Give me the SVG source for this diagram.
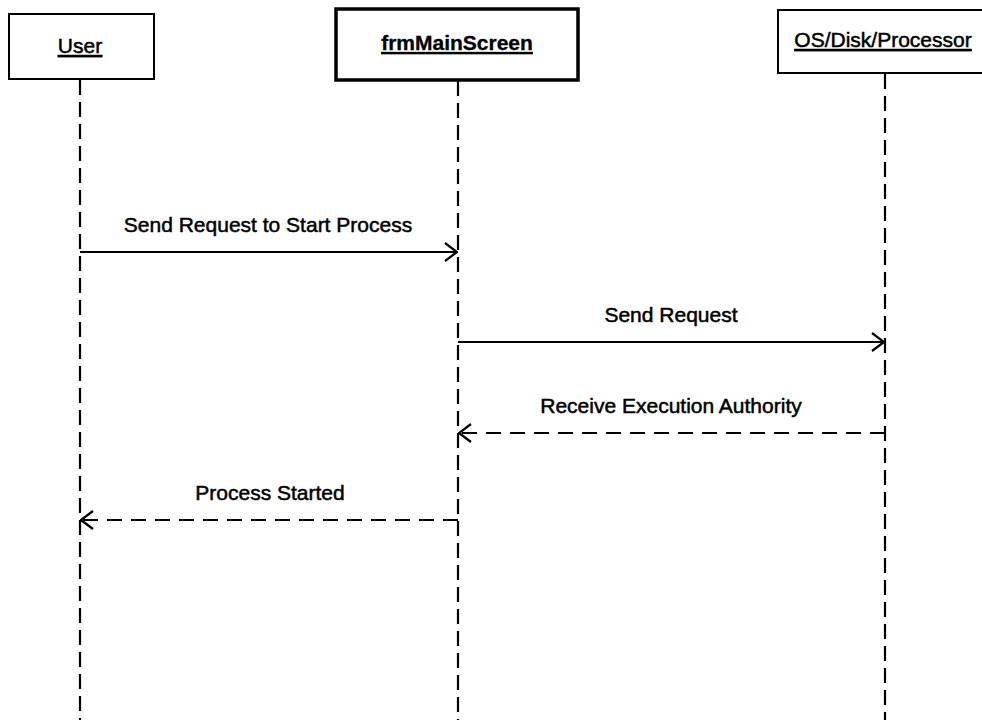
<svg xmlns="http://www.w3.org/2000/svg" width="982" height="720" viewBox="0 0 982 720">
  <style>
    .box { fill: #ffffff; stroke: #000000; stroke-width: 2; }
    .box-bold { fill: #ffffff; stroke: #000000; stroke-width: 3.5; }
    .name { font-family: "Liberation Sans", Arial, sans-serif; font-size: 21px; text-anchor: middle; text-decoration: underline; fill: #000; stroke: #000; stroke-width: 0.5; }
    .name-bold { font-weight: bold; stroke-width: 0.3; }
    .lifeline { stroke: #000; stroke-width: 2.2; stroke-dasharray: 15 7; fill: none; }
    .msg { stroke: #000; stroke-width: 2; fill: none; }
    .reply { stroke-dasharray: 15 9; }
    .label { font-family: "Liberation Sans", Arial, sans-serif; font-size: 21px; text-anchor: middle; fill: #000; stroke: #000; stroke-width: 0.5; }
  </style>
  <defs>
    <marker id="open-arrow" viewBox="0 0 14 20" refX="13" refY="10" markerWidth="14" markerHeight="20" markerUnits="userSpaceOnUse" orient="auto">
      <path d="M1,1 L13,10 L1,19" fill="none" stroke="#000" stroke-width="2.2"/>
    </marker>
  </defs>
  <rect width="982" height="720" fill="#ffffff"/>

  <!-- lifelines -->
  <g id="lifelines">
    <line class="lifeline" x1="80" y1="80" x2="80" y2="720"/>
    <line class="lifeline" x1="458" y1="81" x2="458" y2="720"/>
    <line class="lifeline" x1="885" y1="74" x2="885" y2="720"/>
  </g>

  <g id="user">
    <rect class="box" x="9" y="14" width="145" height="65"/>
    <text class="name" x="80" y="53">User</text>
  </g>

  <g id="frmMainScreen">
    <rect class="box-bold" x="336" y="9" width="242" height="71"/>
    <text class="name name-bold" x="457" y="50">frmMainScreen</text>
  </g>

  <g id="os-disk-processor">
    <rect class="box" x="778" y="10" width="216" height="63"/>
    <text class="name" x="883" y="47">OS/Disk/Processor</text>
  </g>

  <!-- messages -->
  <g id="connectors">
    <line class="msg" x1="80" y1="252" x2="457" y2="252" marker-end="url(#open-arrow)"/>
    <line class="msg" x1="458" y1="342" x2="884" y2="342" marker-end="url(#open-arrow)"/>
    <line class="msg reply" x1="885" y1="433" x2="459" y2="433" marker-end="url(#open-arrow)"/>
    <line class="msg reply" x1="458" y1="520" x2="81" y2="520" marker-end="url(#open-arrow)"/>
  </g>

  <g id="labels">
    <text class="label" x="268" y="232">Send Request to Start Process</text>
    <text class="label" x="671" y="322">Send Request</text>
    <text class="label" x="671" y="413">Receive Execution Authority</text>
    <text class="label" x="270" y="500">Process Started</text>
  </g>
</svg>
